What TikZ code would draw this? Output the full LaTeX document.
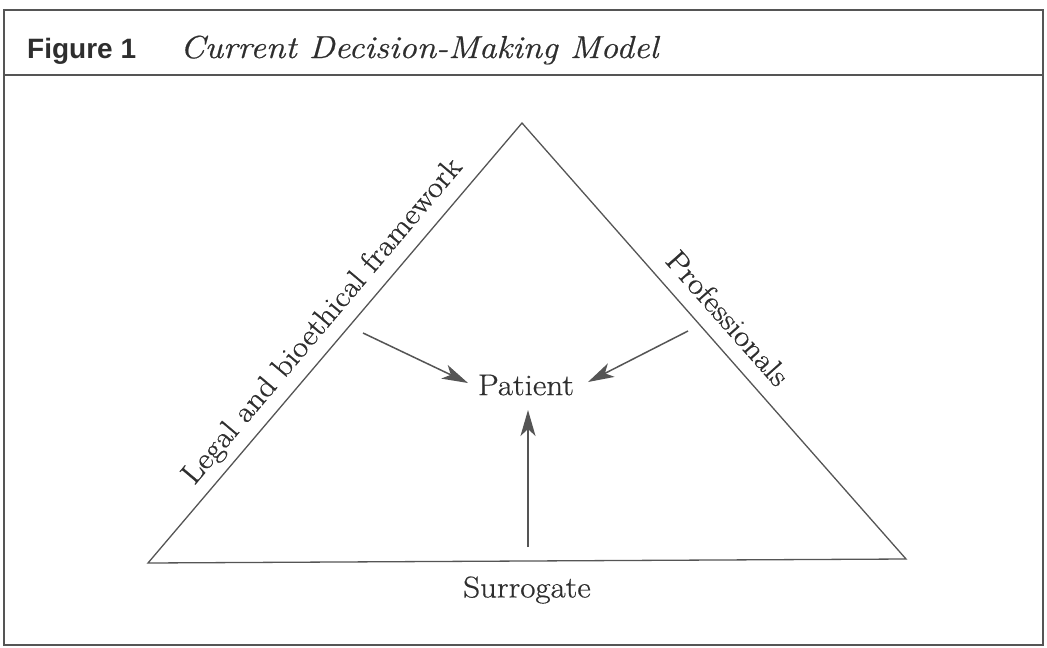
\documentclass[tikz,border=0pt]{standalone}
\usepackage{fontspec}
\setmainfont{Latin Modern Roman}[FakeStretch=1.1,FakeBold=0.6]
\newfontfamily\figsans{Liberation Sans}
\usetikzlibrary{arrows.meta}
\definecolor{linegray}{HTML}{555555}
\definecolor{textgray}{HTML}{2E2E2E}
\begin{document}
\begin{tikzpicture}[x=1pt,y=-1pt,
  frame/.style={draw=linegray,line width=1.6pt},
  edge/.style={draw=linegray,line width=1.3pt},
  arr/.style={draw=linegray,line width=1.5pt,-{Stealth[length=26pt,width=15pt,inset=7pt]}},
  lbl/.style={text=textgray,font=\fontsize{30}{32}\selectfont,inner sep=0pt}]
\useasboundingbox (0,0) rectangle (1047,648);
\fill[white] (0,0) rectangle (1047,648);
% frame
\draw[frame] (4,10) rectangle (1043,645);
\draw[frame] (4,75) -- (1043,75);
\node[anchor=base west,inner sep=0pt,text=textgray,font=\figsans\bfseries\fontsize{28}{30}\selectfont] (fig) at (27,58) {Figure 1};
\node[anchor=base west,inner sep=0pt,text=textgray,font=\itshape\fontsize{31.8}{33}\selectfont] (title) at (180,58) {Current Decision-Making Model};
% triangle
\coordinate (A) at (522,123);
\coordinate (B) at (148,563);
\coordinate (C) at (906,559);
\draw[edge,line join=miter] (A) -- (B) -- (C) -- cycle;
% labels
\node[lbl] (patient) at (526,385) {Patient};
\node[lbl] (surrogate) at (527,590) {Surrogate};
\node[lbl,rotate=49.8] (legal) at (323,322) {Legal and bioethical framework};
\node[lbl,rotate=-48.5] (prof) at (728,318) {Professionals};
% arrows
\coordinate (l0) at (363,333);
\coordinate (l1) at (468,383);
\coordinate (r0) at (688,331);
\coordinate (r1) at (588,382);
\coordinate (b0) at (528,547);
\coordinate (b1) at (528,410);
\draw[arr] (l0) -- (l1);
\draw[arr] (r0) -- (r1);
\draw[arr] (b0) -- (b1);
\end{tikzpicture}
\end{document}
